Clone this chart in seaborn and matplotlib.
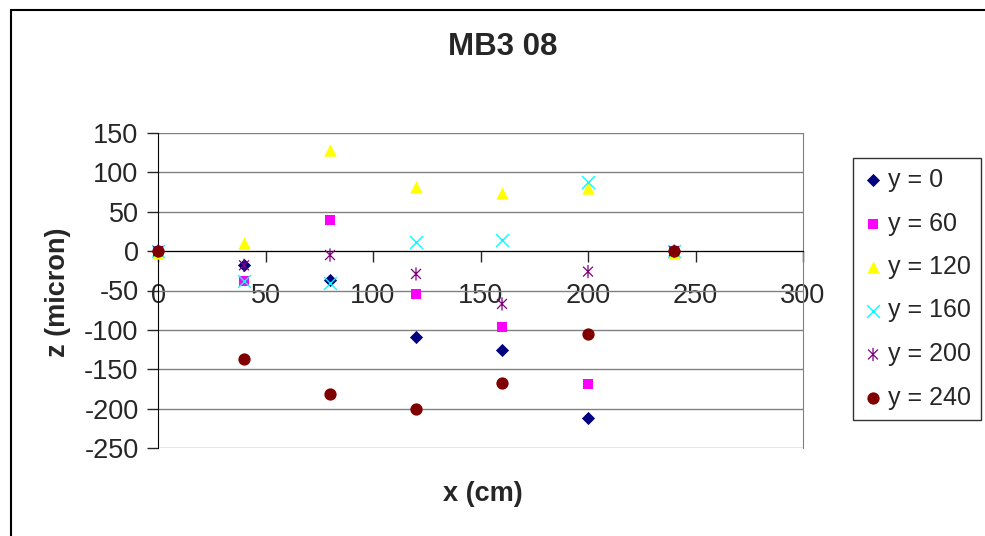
import numpy as np
import pandas as pd
import seaborn as sns
import matplotlib.pyplot as plt
from matplotlib.path import Path
from matplotlib.patches import Rectangle

# dados (x em cm, z em micron)
x_pos = [0, 40, 80, 120, 160, 200, 240]
z_y0 = [0, -18, -37, -109, -125, -212, 0]
z_y60 = [0, -38, 40, -54, -96, -169, 0]
z_y120 = [-2, 10, 129, 81, 74, 80, -2]
z_y160 = [0, -38, -40, 11, 14, 88, 0]
z_y200 = [0, -18, -5, -29, -67, -26, 0]
z_y240 = [0, -137, -181, -200, -168, -105, 0]
labels = ["y = 0", "y = 60", "y = 120", "y = 160", "y = 200", "y = 240"]

sns.set_style("white")
plt.rcParams['font.family'] = ['Liberation Sans', 'DejaVu Sans']
plt.rcParams['axes.unicode_minus'] = False

# marcador estrela estilo Excel (x + linha vertical)
star = Path([(0, -1), (0, 1), (-0.75, -0.75), (0.75, 0.75), (-0.75, 0.75), (0.75, -0.75)],
            [Path.MOVETO, Path.LINETO] * 3)

estilos = [
    dict(marker="D", color="#000080", s=45, linewidth=0),
    dict(marker="s", color="#FF00FF", s=58, linewidth=0),
    dict(marker="^", color="#FFFF00", s=80, linewidth=0),
    dict(marker="x", color="#00FFFF", s=85, linewidth=1.0),
    dict(marker=star, color="#800080", s=90, linewidth=0.9, facecolor="none", edgecolor="#800080"),
    dict(marker="o", color="#800000", s=78, linewidth=0),
]
series = [z_y0, z_y60, z_y120, z_y160, z_y200, z_y240]

fig = plt.figure(figsize=(9.85, 5.36), dpi=100)
ax = fig.add_axes([158 / 985, 88 / 536, 645 / 985, 315 / 536])

for z, lab, st in zip(series, labels, estilos):
    df = pd.DataFrame({"x": x_pos, "z": z})
    sns.scatterplot(data=df, x="x", y="z", ax=ax, label=lab, clip_on=False, zorder=3, **st)

ax.set_xlim(0, 300)
ax.set_ylim(-250, 150)
ax.set_xticks(np.arange(0, 301, 50))
ax.set_yticks(np.arange(-250, 151, 50))
ax.yaxis.grid(True, color="#808080", linewidth=1.0)
ax.set_axisbelow(True)

ax.spines['bottom'].set_position(('data', 0))
ax.spines['bottom'].set_color('black')
ax.spines['left'].set_color('black')
ax.spines['top'].set_visible(False)
ax.spines['right'].set_color('#808080')
ax.tick_params(axis='x', direction='out', length=8, width=1, pad=15, labelsize=19.5)
ax.tick_params(axis='y', direction='out', length=8, width=1, pad=6, labelsize=19.5)
ax.tick_params(left=True, bottom=True)

ax.set_xlabel("")
ax.set_ylabel("")
fig.text(483 / 985, 1 - 494 / 536, "x (cm)", ha="center", va="center", fontsize=19.5, fontweight="bold")
fig.text(58 / 985, 1 - 292 / 536, "z (micron)", ha="center", va="center", rotation=90,
         fontsize=19.5, fontweight="bold")
fig.text(503 / 985, 1 - 47 / 536, "MB3 08", ha="center", va="center", fontsize=22.5, fontweight="bold")

leg = ax.legend(loc="upper left", bbox_to_anchor=(853 / 985, 1 - 158 / 536),
                bbox_transform=fig.transFigure, frameon=True, fancybox=False,
                edgecolor="black", fontsize=18, handletextpad=0.18, handlelength=0.8,
                labelspacing=0.78, borderpad=0.4, borderaxespad=0)
leg.get_frame().set_linewidth(1.0)

# moldura externa do gráfico
fig.patches.append(Rectangle((10.5 / 985, -0.2), 1.2, 1.2 - 9.5 / 536, transform=fig.transFigure,
                             fill=False, edgecolor="black", linewidth=1.5))

fig.savefig("out.png", dpi=100)
